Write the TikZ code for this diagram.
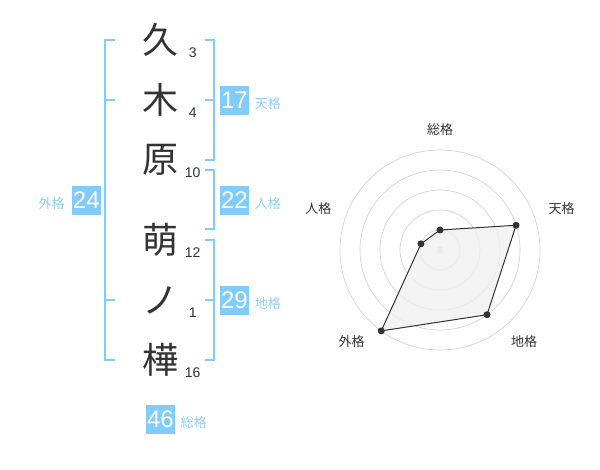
\documentclass[tikz,border=0pt]{standalone}
\usepackage{fontspec}
\setmainfont{Liberation Sans}
\newfontfamily\jp{Noto Sans CJK JP}
\usetikzlibrary{positioning,calc}

\definecolor{kakublue}{RGB}{128,204,255}
\definecolor{kakulabel}{RGB}{140,205,245}
\definecolor{inkgray}{RGB}{51,51,51}
\definecolor{ringgray}{RGB}{210,210,210}
\definecolor{areagray}{RGB}{240,240,240}

\begin{document}
\begin{tikzpicture}[x=0.75pt,y=-0.75pt,
  kanji/.style={inner sep=0pt,text=inkgray,font=\jp\fontsize{27pt}{27pt}\selectfont},
  strokes/.style={inner sep=0pt,text=inkgray,font=\fontsize{10.5pt}{10.5pt}\selectfont},
  bracket/.style={color=kakublue,line width=1.5pt},
  numbox/.style={fill=kakublue,text=white,minimum size=21.75pt,inner sep=0pt,font=\fontsize{18pt}{18pt}\selectfont},
  kakuname/.style={inner sep=0pt,text=kakulabel,font=\jp\fontsize{9.75pt}{9.75pt}\selectfont},
  ring/.style={color=ringgray,line width=0.5pt},
  axisname/.style={inner sep=0pt,text=inkgray,font=\jp\fontsize{9.75pt}{9.75pt}\selectfont}]

\useasboundingbox (0,0) rectangle (600,470);

% name and stroke counts
\foreach \y/\c/\n [count=\i] in {40/久/3,100/木/4,160/原/10,240/萌/12,300/ノ/1,360/樺/16}{
	\node[kanji] (ch\i) at (160,\y) {\c};
	\node[strokes] (st\i) at (192.7,\y+13) {\n};
}

% brackets
\draw[bracket] (115,40)--(105,40)--(105,360)--(115,360);
\draw[bracket] (105,100)--(115,100);
\draw[bracket] (105,300)--(115,300);

\draw[bracket] (205,40)--(214,40)--(214,160)--(205,160);
\draw[bracket] (205,100)--(214,100);
\draw[bracket] (205,170)--(214,170)--(214,229)--(205,229);
\draw[bracket] (205,240)--(214,240)--(214,360)--(205,360);
\draw[bracket] (205,300)--(214,300);

% totals
\node[numbox] (ten) at (234.5,100.5) {17};
\node[numbox] (jin) at (234.5,200.5) {22};
\node[numbox] (chi) at (234.5,300.5) {29};
\node[numbox] (gai) at (86.3,200.5) {24};
\node[numbox] (sou) at (160.5,419.5) {46};

\node[kakuname,right=4pt of ten,yshift=-2.5pt] (tenname) {天格};
\node[kakuname,right=4pt of jin,yshift=-2.5pt] (jinname) {人格};
\node[kakuname,right=4pt of chi,yshift=-2.5pt] (chiname) {地格};
\node[kakuname,left=5pt of gai,yshift=-2.5pt] (gainame) {外格};
\node[kakuname,right=4pt of sou,yshift=-2.5pt] (souname) {総格};

% radar
\coordinate (ctr) at (440,250);
\foreach \r in {20,40,...,100}{
	\draw[ring] (ctr) circle[radius=\r];
}
\fill[color=ringgray] (ctr) circle[radius=3.5];

\coordinate (psou) at ($(ctr)+(-90:20)$);
\coordinate (pten) at ($(ctr)+(-18:80)$);
\coordinate (pchi) at ($(ctr)+(54:80)$);
\coordinate (pgai) at ($(ctr)+(126:100)$);
\coordinate (pjin) at ($(ctr)+(198:20)$);

\draw[fill=areagray,fill opacity=0.8,draw=inkgray,line width=0.75pt] (psou)--(pten)--(pchi)--(pgai)--(pjin)--cycle;
\foreach \p in {psou,pten,pchi,pgai,pjin}{
	\fill[color=inkgray] (\p) circle[radius=3.5];
}

\node[axisname] (asou) at (440,130) {総格};
\node[axisname] (aten) at (561.7,208.3) {天格};
\node[axisname] (achi) at (524,341.7) {地格};
\node[axisname] (agai) at (351.7,341.7) {外格};
\node[axisname] (ajin) at (318.3,208.3) {人格};

\end{tikzpicture}
\end{document}
